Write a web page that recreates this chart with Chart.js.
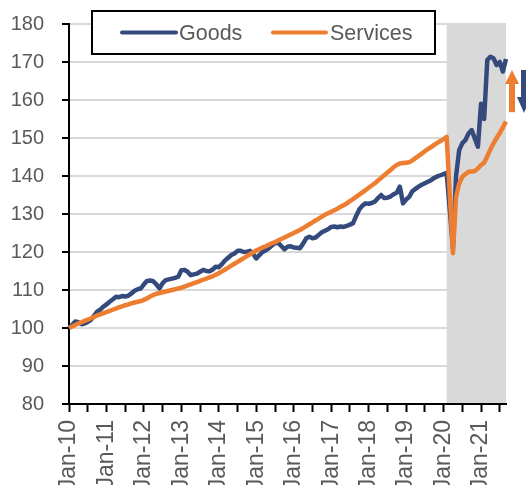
<!DOCTYPE html>
<html>
<head>
<meta charset="utf-8">
<script src="https://cdn.jsdelivr.net/npm/chart.js@4.4.0/dist/chart.umd.min.js"></script>
<style>
  html, body { margin: 0; padding: 0; background: #ffffff; }
  #wrap { position: relative; width: 526px; height: 485px; }
</style>
</head>
<body>
<div id="wrap"><canvas id="c"></canvas></div>
<script>
// ---- Data (monthly index, Jan-10 = 100) ----
const monthNames = ['Jan','Feb','Mar','Apr','May','Jun','Jul','Aug','Sep','Oct','Nov','Dec'];
const categories = [];
for (let y = 10; y <= 21; y++) {
  for (let m = 0; m < 12; m++) {
    if (y === 21 && m > 8) break;
    categories.push(monthNames[m] + '-' + y);
  }
}

const goods = [
  100.0, 100.8, 101.7, 101.5, 101.0, 101.2, 101.6, 102.1, 103.2, 104.3, 104.8, 105.6,
  106.2, 106.9, 107.5, 108.2, 108.1, 108.4, 108.3, 108.5, 109.1, 109.8, 110.2, 110.4,
  111.5, 112.4, 112.5, 112.3, 111.5, 110.4, 111.8, 112.6, 112.8, 113.0, 113.2, 113.5,
  115.2, 115.3, 114.8, 113.9, 114.1, 114.3, 114.8, 115.3, 115.0, 114.9, 115.4, 116.1,
  116.0, 116.8, 117.8, 118.5, 119.2, 119.6, 120.3, 120.3, 120.0, 120.1, 120.3, 119.5,
  118.3, 119.2, 120.0, 120.4, 121.0, 121.7, 122.3, 122.4, 121.6, 120.7, 121.4, 121.5,
  121.2, 121.1, 121.0, 122.2, 123.6, 124.0, 123.6, 123.8, 124.5, 125.2, 125.6, 126.0,
  126.6, 126.7, 126.5, 126.7, 126.6, 126.9, 127.2, 127.6, 129.5, 131.2, 132.2, 132.8,
  132.7, 132.9, 133.3, 134.2, 135.0, 134.2, 134.3, 134.6, 135.2, 135.6, 137.2, 132.8,
  133.8, 134.5, 136.0, 136.6, 137.2, 137.7, 138.1, 138.5, 138.9, 139.5, 139.9, 140.2,
  140.5, 140.8, 131.0, 121.0, 140.0, 146.8, 148.6, 149.5, 151.2, 152.1, 149.9, 147.7,
  159.0, 155.0, 170.5, 171.4, 171.0, 169.2, 170.0, 167.5, 170.8
];

const services = [
  100.0, 100.4, 100.8, 101.2, 101.5, 101.9, 102.2, 102.5, 102.9, 103.3, 103.6, 103.9,
  104.2, 104.5, 104.8, 105.1, 105.4, 105.7, 106.0, 106.2, 106.5, 106.7, 106.9, 107.1,
  107.4, 107.8, 108.3, 108.7, 109.0, 109.2, 109.4, 109.6, 109.8, 110.0, 110.2, 110.4,
  110.6, 110.9, 111.2, 111.5, 111.8, 112.1, 112.4, 112.7, 113.0, 113.3, 113.6, 114.0,
  114.4, 114.9, 115.4, 115.9, 116.4, 116.9, 117.4, 117.9, 118.4, 118.9, 119.4, 119.9,
  120.4, 120.8, 121.2, 121.5, 121.9, 122.3, 122.6, 123.0, 123.4, 123.8, 124.2, 124.6,
  125.0, 125.4, 125.8, 126.3, 126.8, 127.3, 127.8, 128.3, 128.8, 129.3, 129.8, 130.2,
  130.6, 131.0, 131.4, 131.9, 132.3, 132.8, 133.4, 133.9, 134.5, 135.1, 135.7, 136.3,
  136.9, 137.5, 138.1, 138.8, 139.5, 140.2, 140.9, 141.6, 142.3, 142.9, 143.3, 143.4,
  143.5, 143.6, 144.1, 144.7, 145.3, 145.9, 146.5, 147.1, 147.6, 148.2, 148.7, 149.2,
  149.7, 150.3, 135.0, 119.7, 134.5, 138.0, 139.8, 140.5, 141.1, 141.2, 141.3, 142.0,
  142.9, 143.5, 145.2, 147.0, 148.6, 150.0, 151.3, 152.8, 154.3
];

const seriesNames = ['Goods', 'Services'];
const seriesColors = ['#34497c', '#ed7d31'];
const yTicks = [80, 90, 100, 110, 120, 130, 140, 150, 160, 170, 180];
const shadeStart = 'Feb-20';
// Arrow annotations (value ranges on the y axis)
const upArrow = { from: 156.8, headBase: 164.2, to: 167.9 };
const downArrow = { from: 167.9, headBase: 160.8, to: 156.6 };

const labelColor = '#595959';
const fontFamily = "'Liberation Sans', Arial, sans-serif";

const shadePlugin = {
  id: 'shade',
  beforeDatasetsDraw(chart) {
    const { ctx, chartArea, scales } = chart;
    const x0 = scales.x.getPixelForValue(categories.indexOf(shadeStart));
    ctx.save();
    ctx.fillStyle = '#d9d9d9';
    ctx.fillRect(x0, chartArea.top - 1, chartArea.right - x0, chartArea.bottom - chartArea.top);
    ctx.restore();
  }
};

const legendPlugin = {
  id: 'boxLegend',
  afterDraw(chart) {
    const { ctx } = chart;
    ctx.save();
    ctx.fillStyle = '#ffffff';
    ctx.fillRect(92, 11, 343, 43);
    ctx.strokeStyle = '#000000';
    ctx.lineWidth = 2;
    ctx.strokeRect(92, 11, 343, 43);
    ctx.font = '21.5px ' + fontFamily;
    ctx.textBaseline = 'alphabetic';
    ctx.textAlign = 'left';
    const items = [
      { x1: 122, x2: 176, tx: 179 },
      { x1: 273, x2: 326, tx: 330 }
    ];
    chart.data.datasets.forEach((ds, i) => {
      const it = items[i];
      ctx.strokeStyle = ds.borderColor;
      ctx.lineWidth = 4;
      ctx.lineCap = 'round';
      ctx.beginPath();
      ctx.moveTo(it.x1, 32.5);
      ctx.lineTo(it.x2, 32.5);
      ctx.stroke();
      ctx.fillStyle = labelColor;
      ctx.fillText(ds.label, it.tx, 40);
    });
    ctx.restore();
  }
};

const arrowPlugin = {
  id: 'arrows',
  afterDraw(chart) {
    const { ctx, chartArea, scales } = chart;
    const y = scales.y;
    const r = chartArea.right;
    function arrow(a, cx, color) {
      const yFrom = y.getPixelForValue(a.from);
      const yBase = y.getPixelForValue(a.headBase);
      const yTo = y.getPixelForValue(a.to);
      ctx.fillStyle = color;
      ctx.fillRect(cx - 3, Math.min(yFrom, yBase), 6, Math.abs(yBase - yFrom));
      ctx.beginPath();
      ctx.moveTo(cx - 7, yBase);
      ctx.lineTo(cx + 7, yBase);
      ctx.lineTo(cx, yTo);
      ctx.closePath();
      ctx.fill();
    }
    ctx.save();
    arrow(upArrow, r + 6, seriesColors[1]);
    arrow(downArrow, r + 18, seriesColors[0]);
    ctx.restore();
  }
};

new Chart(document.getElementById('c'), {
  type: 'line',
  data: {
    labels: categories,
    datasets: [
      { label: seriesNames[0], data: goods, borderColor: seriesColors[0], backgroundColor: seriesColors[0],
        borderWidth: 4.5, pointRadius: 0, tension: 0, borderJoinStyle: 'round', order: 1 },
      { label: seriesNames[1], data: services, borderColor: seriesColors[1], backgroundColor: seriesColors[1],
        borderWidth: 4.5, pointRadius: 0, tension: 0, borderJoinStyle: 'round', order: 0 }
    ]
  },
  options: {
    responsive: true,
    maintainAspectRatio: false,
    animation: false,
    events: [],
    layout: { padding: { top: 24, right: 20, left: 0, bottom: 0 } },
    plugins: { legend: { display: false }, tooltip: { enabled: false } },
    scales: {
      x: {
        type: 'category',
        offset: false,
        afterFit(s) { s.height = 81; s.paddingLeft = 0; s.paddingRight = 0; },
        border: { display: true, color: '#000000', width: 2 },
        grid: {
          drawOnChartArea: false,
          drawTicks: true,
          tickLength: 8,
          tickWidth: 2,
          tickColor: (ctx) => (ctx.index % 6 === 0 ? '#000000' : 'rgba(0,0,0,0)')
        },
        ticks: {
          autoSkip: false,
          maxRotation: 90,
          minRotation: 90,
          padding: 8,
          color: labelColor,
          font: { family: fontFamily, size: 23 },
          callback: (v, i) => (i % 12 === 0 ? categories[i] : '')
        }
      },
      y: {
        min: 80,
        max: 180,
        afterFit(s) { s.width = 69; s.paddingTop = 0; s.paddingBottom = 0; },
        afterBuildTicks(s) { s.ticks = yTicks.map(v => ({ value: v })); },
        border: { display: true, color: '#000000', width: 2 },
        grid: {
          color: '#d9d9d9',
          lineWidth: 2,
          drawTicks: true,
          tickLength: 7,
          tickColor: '#000000',
          tickWidth: 2
        },
        ticks: {
          padding: 18,
          color: labelColor,
          font: { family: fontFamily, size: 20 }
        }
      }
    }
  },
  plugins: [shadePlugin, legendPlugin, arrowPlugin]
});
</script>
</body>
</html>
